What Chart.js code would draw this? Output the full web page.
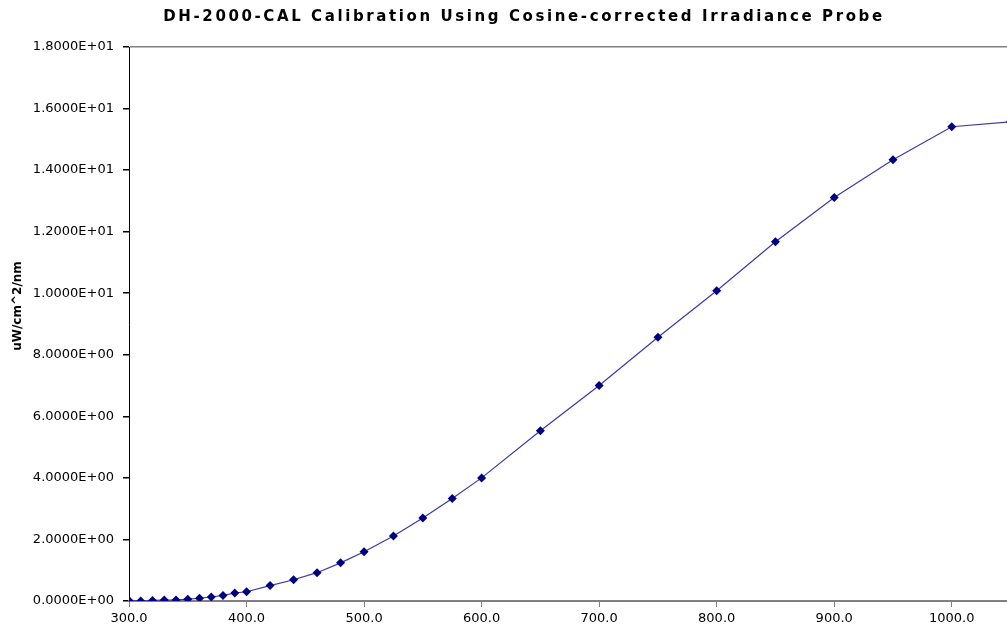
<!DOCTYPE html>
<html>
<head>
<meta charset="utf-8">
<script src="https://cdn.jsdelivr.net/npm/chart.js@4.4.1/dist/chart.umd.min.js"></script>
<style>
  html, body { margin: 0; padding: 0; background: #ffffff; overflow: hidden; }
  #wrap { width: 1007px; height: 634px; }
</style>
</head>
<body>
<div id="wrap"><canvas id="calChart"></canvas></div>
<script>
const chartTitle = 'DH-2000-CAL Calibration Using Cosine-corrected Irradiance Probe';
const yAxisTitle = 'uW/cm^2/nm';
const wavelengths = [300, 310, 320, 330, 340, 350, 360, 370, 380, 390, 400, 420, 440, 460, 480, 500,
    525, 550, 575, 600, 650, 700, 750, 800, 850, 900, 950, 1000, 1050];
const irradiance = [0.02, 0.00, 0.02, 0.03, 0.03, 0.06, 0.09, 0.13, 0.18, 0.26, 0.30, 0.50, 0.69, 0.92, 1.24, 1.60,
    2.11, 2.70, 3.33, 4.00, 5.53, 7.00, 8.57, 10.08, 11.67, 13.11, 14.34, 15.41, 15.57];
const xTicks = [300, 400, 500, 600, 700, 800, 900, 1000];
const yTicks = [0, 2, 4, 6, 8, 10, 12, 14, 16, 18];

// excel style exponent, two digit power
function sci(v) {
    const parts = v.toExponential(4).split('e');
    const sign = parts[1][0];
    const pow = parts[1].slice(1).padStart(2, '0');
    return parts[0] + 'E' + sign + pow;
}

// titles drawn by hand: the chart title needs the wide letter spacing,
// the axis title sits a bit above the middle of the axis like excel does
const titlePlugin = {
    id: 'excelTitles',
    afterDraw(chart) {
        const ctx = chart.ctx;
        ctx.save();
        ctx.font = 'bold 15px "DejaVu Sans"';
        ctx.fillStyle = '#000';
        ctx.textAlign = 'center';
        ctx.textBaseline = 'middle';
        if ('letterSpacing' in ctx) ctx.letterSpacing = '2.6px';
        ctx.fillText(chartTitle, 524, 17);
        ctx.restore();

        ctx.save();
        ctx.font = 'bold 12px "DejaVu Sans"';
        ctx.fillStyle = '#000';
        ctx.textAlign = 'center';
        ctx.textBaseline = 'middle';
        ctx.translate(18, 306);
        ctx.rotate(-Math.PI / 2);
        ctx.fillText(yAxisTitle, 0, 0);
        ctx.restore();
    }
};

new Chart(document.getElementById('calChart'), {
    type: 'line',
    data: {
        datasets: [{
            data: wavelengths.map((w, i) => ({ x: w, y: irradiance[i] })),
            borderColor: '#3a3aa8',
            borderWidth: 1.2,
            pointStyle: 'rectRot',
            pointRadius: 4.5,
            pointBackgroundColor: '#000080',
            pointBorderColor: '#000080',
            pointBorderWidth: 0,
            tension: 0,
            fill: false
        }]
    },
    options: {
        responsive: true,
        maintainAspectRatio: false,
        animation: false,
        layout: { autoPadding: false, padding: { top: 47, right: 0, bottom: 0, left: 0 } },
        plugins: {
            legend: { display: false },
            title: { display: false },
            tooltip: { enabled: false }
        },
        scales: {
            x: {
                type: 'linear',
                min: 300,
                max: 1047,
                afterBuildTicks: s => { s.ticks = xTicks.map(v => ({ value: v })); },
                afterFit: s => { s.height = 33; s.paddingLeft = 0; s.paddingRight = 0; },
                ticks: {
                    color: '#000',
                    font: { family: 'DejaVu Sans', size: 13 },
                    padding: 4,
                    maxRotation: 0,
                    callback: v => v.toFixed(1)
                },
                grid: { drawOnChartArea: false, tickLength: 6, tickColor: '#808080', tickWidth: 1 },
                border: { color: '#808080', width: 2 }
            },
            y: {
                min: 0,
                max: 18,
                afterBuildTicks: s => { s.ticks = yTicks.map(v => ({ value: v })); },
                afterFit: s => { s.width = 129; },
                ticks: {
                    color: '#000',
                    font: { family: 'DejaVu Sans', size: 13 },
                    padding: 9,
                    callback: v => sci(v)
                },
                grid: {
                    drawOnChartArea: true,
                    color: c => (c.tick && c.tick.value === 18) ? '#808080' : 'rgba(0,0,0,0)',
                    lineWidth: 1.5,
                    tickLength: 6,
                    tickColor: '#000'
                },
                border: { color: '#000', width: 1 }
            }
        }
    },
    plugins: [titlePlugin]
});
</script>
</body>
</html>
